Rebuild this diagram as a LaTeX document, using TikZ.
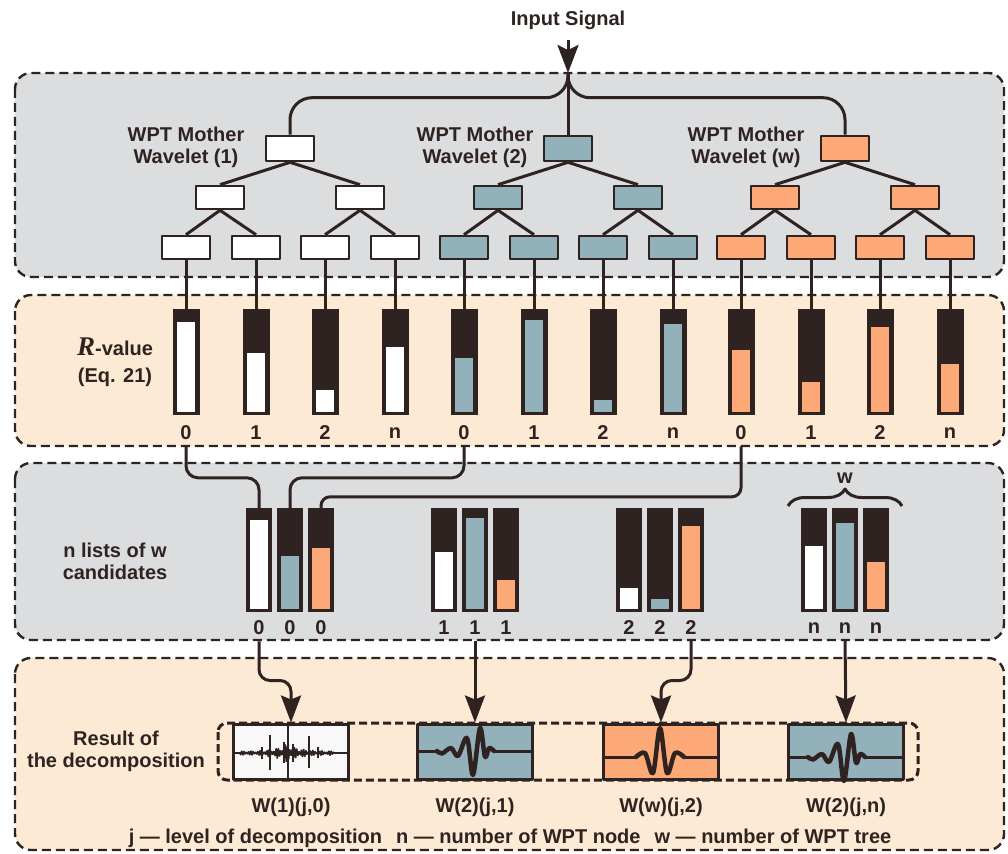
\documentclass[tikz,border=0pt]{standalone}
\usepackage{fontspec}
\setmainfont{Liberation Sans}
\newfontfamily\rfont{Liberation Serif}
\usetikzlibrary{arrows.meta,calc,decorations.pathreplacing}
\definecolor{ink}{HTML}{2F2321}
\definecolor{pgray}{HTML}{DCDDDF}
\definecolor{ppeach}{HTML}{FDEAD5}
\definecolor{wblue}{HTML}{93B1BB}
\definecolor{worange}{HTML}{FDA977}
\definecolor{boxwhite}{HTML}{F8F8F8}
\newcommand\dbwave{%
  \draw[ink,line width=3pt] (418,751) -- (438,751) (494,751) -- (533,751);
  \draw[ink,line width=4.5pt,line cap=round] plot[smooth,tension=0.55] coordinates {(437,751) (442,753.5) (451,748) (458,756) (467,738) (473,775) (480,728) (485,757) (489,748) (494,751)};
}
\begin{document}
\begin{tikzpicture}[x=1pt,y=-1pt,line join=round,
  panel/.style={draw=ink,line width=2.4pt,dash pattern=on 9pt off 5pt,rounded corners=16pt},
  tbox/.style={draw=ink,line width=2.6pt,minimum width=48pt,minimum height=23pt,inner sep=0pt},
  edge/.style={draw=ink,line width=3pt},
  lbl/.style={font=\bfseries\fontsize{20}{22}\selectfont,text=ink,inner sep=0pt,align=center},
  rbar/.style={fill=ink,minimum width=27pt,minimum height=106pt,inner sep=0pt},
  cbar/.style={fill=ink,minimum width=26pt,minimum height=104pt,inner sep=0pt},
  resbox/.style={draw=ink,line width=3pt,minimum width=115pt,minimum height=55pt,inner sep=0pt},
  arr/.style={edge,-{Stealth[length=27pt,width=20pt,inset=4pt]}}
]
\useasboundingbox (0,0) rectangle (1008,853);
% panels
\path[panel,fill=pgray] (15,73) rectangle (1004,277);
\path[panel,fill=ppeach] (15,295) rectangle (1004,446);
\path[panel,fill=pgray] (15,463) rectangle (1004,640);
\path[panel,fill=ppeach] (15,658) rectangle (1004,850);

% input
\node[lbl] (input) at (568,20) {Input Signal};
\coordinate (split) at (568,73);

% trees
\foreach \t/\cx/\col in {1/290/white,2/568/wblue,3/845/worange}{
  \node[tbox,fill=\col,minimum height=25pt] (r\t) at (\cx,148.5) {};
  \node[tbox,fill=\col] (a\t) at (\cx-70,197.5) {};
  \node[tbox,fill=\col] (b\t) at (\cx+70,197.5) {};
  \node[tbox,fill=\col] (l\t1) at (\cx-104,247.5) {};
  \node[tbox,fill=\col] (l\t2) at (\cx-34,247.5) {};
  \node[tbox,fill=\col] (l\t3) at (\cx+35,247.5) {};
  \node[tbox,fill=\col] (l\t4) at (\cx+105,247.5) {};
  \draw[edge] (r\t.south) -- (a\t.north) (r\t.south) -- (b\t.north)
    (a\t.south) -- (l\t1.north) (a\t.south) -- (l\t2.north)
    (b\t.south) -- (l\t3.north) (b\t.south) -- (l\t4.north);
}
\node[lbl] (t1lab) at (186,147) {WPT Mother\\Wavelet (1)};
\node[lbl] (t2lab) at (475,147) {WPT Mother\\Wavelet (2)};
\node[lbl] (t3lab) at (746,147) {WPT Mother\\Wavelet (w)};

\draw[edge,-{Stealth[length=28pt,width=21pt,inset=5pt]}] ([yshift=-10pt]input.south) -- (split);
\draw[edge,rounded corners=22pt] (split) |- ($(r1.north)+(0,-37)$) -- (r1.north);
\draw[edge,rounded corners=22pt] (split) |- ($(r3.north)+(0,-37)$) -- (r3.north);
\draw[edge] (split) -- (r2.north);

% R-value bars
\foreach \t/\cx/\col/\fa/\fb/\fc/\fd in {1/290/white/322/353/390/347,2/568/wblue/358/320/400/324,3/845/worange/350/382/327/364}{
  \foreach \k/\dx/\lab/\ft in {1/-104/0/\fa,2/-34/1/\fb,3/35/2/\fc,4/105/n/\fd}{
    \pgfmathsetmacro\bx{\cx+\dx}
    \node[rbar] (p\t\k) at (\bx,362) {};
    \fill[\col] (\bx-9,\ft) rectangle (\bx+9,411.5);
    \node[lbl] (q\t\k) at (\bx,433) {\lab};
    \draw[edge] (l\t\k.south) -- (p\t\k.north);
  }
}
\node[lbl] (rval) at (115,362) {{\rfont\bfseries\itshape\fontsize{27}{22}\selectfont R}-value\\[5pt](Eq. 21)};

% candidate bars
\foreach \g/\gx/\lab/\fw/\fbl/\fo in {0/290/0/520/556/548,1/475/1/552/518/580,2/660/2/588/599/526,3/845/n/546/523/562}{
  \foreach \k/\dx/\col/\ft in {1/-31/white/\fw,2/0/wblue/\fbl,3/31/worange/\fo}{
    \pgfmathsetmacro\bx{\gx+\dx}
    \node[cbar] (c\g\k) at (\bx,560) {};
    \fill[\col] (\bx-9,\ft) rectangle (\bx+9,608.5);
    \node[lbl] (cl\g\k) at (\bx,628) {\lab};
  }
}
\node[lbl] (candlab) at (115,561) {n lists of w\\candidates};
\draw[edge,decorate,decoration={brace,amplitude=17pt}] (788,506) -- (902,506);
\node[lbl] (wlab) at (845,478) {w};

\draw[edge,rounded corners=12pt] ([yshift=-6pt]q11.south) |- ($(c01.north)+(0,-30)$) -- (c01.north);
\draw[edge,rounded corners=12pt] ([yshift=-6pt]q21.south) |- ($(c02.north)+(0,-30)$) -- (c02.north);
\draw[edge,rounded corners=9pt] ([yshift=-6pt]q31.south) |- ($(c03.north)+(0,-11)$) -- (c03.north);

% results
\draw[ink,line width=3pt,dash pattern=on 8pt off 4pt,rounded corners=9pt] (218,723) rectangle (918,780);
\node[resbox,fill=boxwhite] (res1) at (291,751.5) {};
\node[resbox,fill=wblue] (res2) at (475,751.5) {};
\node[resbox,fill=worange] (res3) at (661,751.5) {};
\node[resbox,fill=wblue] (res4) at (846,751.5) {};

% box 1 signal
\draw[ink,line width=1.4pt] (233,753) -- (349,753) (288,724) -- (288,779);
\draw[ink,line width=1.5pt] plot[domain=240:334,samples=188,variable=\u] (\u,{753+(2.2+4.5*exp(-(\u-288)*(\u-288)/300)+4*exp(-(\u-288)*(\u-288)/12))*sin((\u-240)*157)*(0.65+0.35*sin((\u-240)*41))});
\draw[ink,line width=2pt] (270,735) -- (270,770) (309,736) -- (309,768) (284,742) -- (284,763) (293,744) -- (293,762) (262,747) -- (262,759) (318,747) -- (318,758);
% box 2 and 4 wavelets
\dbwave
\begin{scope}[shift={(371,6)}]
\dbwave
\end{scope}
% box 3 wavelet
\draw[ink,line width=3pt] (603,757) -- (637,757) (684,757) -- (719,757);
\draw[ink,line width=4.5pt,line cap=round] plot[smooth,tension=0.55] coordinates {(636,757) (645,753) (653,773) (660,728) (667,773) (675,753) (684,757)};

\draw[arr,rounded corners=11pt] ([yshift=-6pt]cl01.south) |- ($(res1.north)+(0,-42)$) -- (res1.north);
\draw[arr] ([yshift=-6pt]cl12.south) -- (res2.north);
\draw[arr,rounded corners=11pt] ([yshift=-6pt]cl23.south) |- ($(res3.north)+(0,-42)$) -- (res3.north);
\draw[arr] ([yshift=-6pt]cl32.south) -- (res4.north);

\node[lbl] (reslab) at (116,751) {Result of\\the decomposition};
\node[lbl] (w1) at (291,807) {W(1)(j,0)};
\node[lbl] (w2) at (475,807) {W(2)(j,1)};
\node[lbl] (w3) at (661,807) {W(w)(j,2)};
\node[lbl] (w4) at (846,807) {W(2)(j,n)};
\node[lbl] (legend) at (510,838) {j — level of decomposition\hspace{14pt}n — number of WPT node\hspace{14pt}w — number of WPT tree};
\end{tikzpicture}
\end{document}
